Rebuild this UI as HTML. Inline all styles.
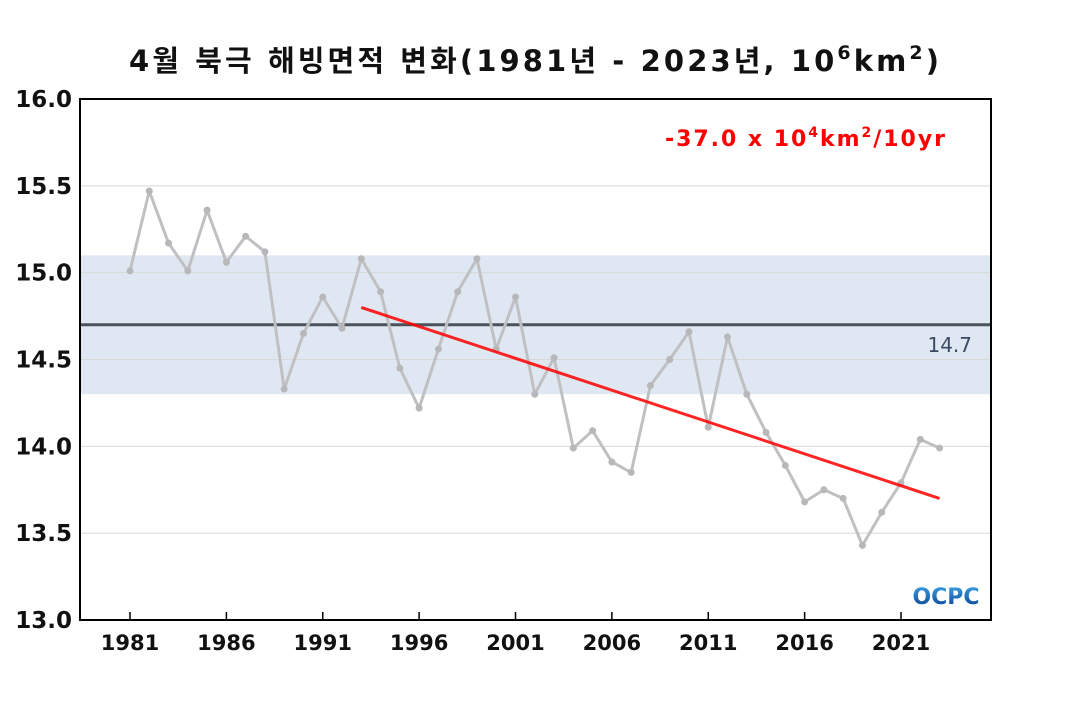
<!DOCTYPE html>
<html><head><meta charset="utf-8"><style>
body{margin:0;background:#fff;}
svg text{font-family:"DejaVu Sans","Noto Sans CJK KR",sans-serif;}
</style></head><body>
<svg id="c" width="1070" height="700" xmlns="http://www.w3.org/2000/svg">
<defs><linearGradient id="lg" x1="0" y1="0" x2="0" y2="1"><stop offset="0" stop-color="#3aa0e0"/><stop offset="1" stop-color="#0a3d8f"/></linearGradient></defs>
<text x="129" y="71" font-size="29" font-weight="bold" fill="#111" textLength="810" lengthAdjust="spacing">4월 북극 해빙면적 변화(1981년 - 2023년, 10<tspan font-size="19" dy="-12">6</tspan><tspan dy="12">km</tspan><tspan font-size="19" dy="-12">2</tspan><tspan dy="12">)</tspan></text>
<g id="plot"></g>
<text x="665" y="146" font-size="22" font-weight="bold" fill="#f00" textLength="280" lengthAdjust="spacing">-37.0 x 10<tspan font-size="14" dy="-9">4</tspan><tspan dy="9">km</tspan><tspan font-size="14" dy="-9">2</tspan><tspan dy="9">/10yr</tspan></text>
<text x="946" y="604" text-anchor="middle" font-size="22" font-weight="bold" fill="url(#lg)">OCPC</text>
</svg>
<script>
const years=[1981,1982,1983,1984,1985,1986,1987,1988,1989,1990,1991,1992,1993,1994,1995,1996,1997,1998,1999,2000,2001,2002,2003,2004,2005,2006,2007,2008,2009,2010,2011,2012,2013,2014,2015,2016,2017,2018,2019,2020,2021,2022,2023];
const values=[15.01,15.47,15.17,15.01,15.36,15.06,15.21,15.12,14.33,14.65,14.86,14.68,15.08,14.89,14.45,14.22,14.56,14.89,15.08,14.56,14.86,14.30,14.51,13.99,14.09,13.91,13.85,14.35,14.50,14.66,14.11,14.63,14.30,14.08,13.89,13.68,13.75,13.70,13.43,13.62,13.79,14.04,13.99];
const yTicks=[13.0,13.5,14.0,14.5,15.0,15.5,16.0];
const xTicks=[1981,1986,1991,1996,2001,2006,2011,2016,2021];
const meanVal=[14.7];
const band=[14.3,15.1];
const trendYears=[1993,2023];
const trendVals=[14.80,13.70];
const L=80,R=991,T=99,B=620;
const X=y=>130+(y-1981)*(901-130)/40;
const Y=v=>B-(v-13)*(B-T)/3;
const NS="http://www.w3.org/2000/svg";
const g=document.getElementById('plot');
function mk(t,a,p){const e=document.createElementNS(NS,t);for(const k in a)e.setAttribute(k,a[k]);(p||g).appendChild(e);return e;}
let e;
e=mk('rect',{x:L,y:Y(band[1]),width:R-L,height:Y(band[0])-Y(band[1]),fill:'#dfe8f2'});


yTicks.forEach(v=>{
 e=mk('line',{x1:L,x2:R,y1:Y(v),y2:Y(v),stroke:'#d8d8d8','stroke-width':1});
 
 
 e=mk('text',{x:L-8,y:Y(v)+8,'text-anchor':'end','font-size':23,'font-weight':'bold',fill:'#111'});e.textContent=v.toFixed(1);
 
 
});
xTicks.forEach(y=>{
 e=mk('line',{x1:X(y),x2:X(y),y1:B,y2:B-8,stroke:'#000','stroke-width':1.5});
 
 
 e=mk('text',{x:X(y),y:B+30,'text-anchor':'middle','font-size':21,'font-weight':'bold',fill:'#111'});e.textContent=y;
 
 
});
e=mk('line',{x1:L,x2:R,y1:Y(meanVal[0]),y2:Y(meanVal[0]),stroke:'#4a535c','stroke-width':3});


e=mk('text',{x:972,y:Y(meanVal[0])+27,'text-anchor':'end','font-size':20,fill:'#3b4a63'});e.textContent=meanVal[0].toFixed(1);


e=mk('polyline',{points:years.map((y,i)=>X(y)+','+Y(values[i])).join(' '),fill:'none',stroke:'#c0c0c2','stroke-width':3,'stroke-linejoin':'round'});


years.forEach((y,i)=>{
 e=mk('circle',{cx:X(y),cy:Y(values[i]),r:3.5,fill:'#b8b8ba'});
 
 
});
e=mk('line',{x1:X(trendYears[0]),y1:Y(trendVals[0]),x2:X(trendYears[1]),y2:Y(trendVals[1]),stroke:'#f00','stroke-width':3,opacity:0.85});


e=mk('rect',{x:L,y:T,width:R-L,height:B-T,fill:'none',stroke:'#000','stroke-width':2});


</script>
</body></html>
